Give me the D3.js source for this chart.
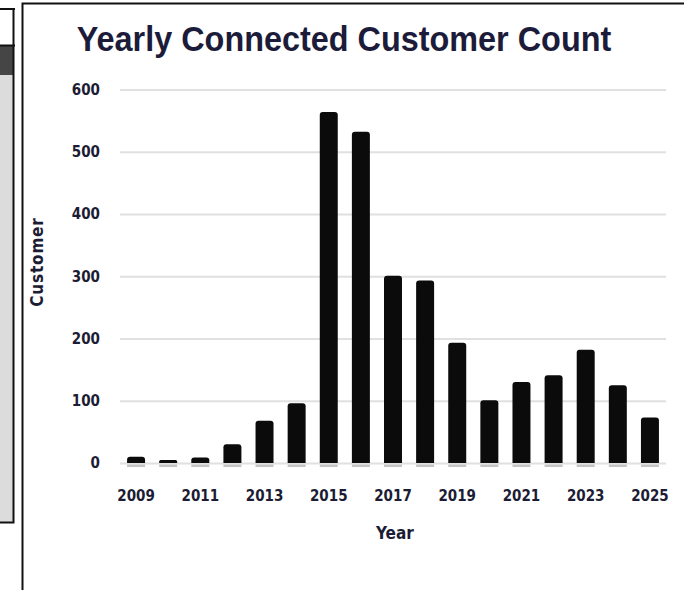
<!DOCTYPE html>
<html>
<head>
<meta charset="utf-8">
<script src="https://cdn.jsdelivr.net/npm/d3@7"></script>
<style>
  body { margin: 0; background: #fff; }
  svg { display: block; }
  .tick text, .axis-title { font-family: "DejaVu Sans Condensed", "DejaVu Sans", sans-serif; font-stretch: condensed; font-weight: bold; fill: #1c1c34; }
</style>
</head>
<body>
<div id="chart-area"></div>
<script>
// data
const years = ["2009", "2010", "2011", "2012", "2013", "2014", "2015", "2016", "2017",
  "2018", "2019", "2020", "2021", "2022", "2023", "2024", "2025"]
const customers = [10, 5, 9, 30, 68, 96, 564, 532, 301, 293, 193, 101, 130, 141, 182, 125, 73]
const yTicks = [0, 100, 200, 300, 400, 500, 600]
const xTickLabels = ["2009", "2011", "2013", "2015", "2017", "2019", "2021", "2023", "2025"]

const W = 684, H = 590
const PLOT = { LEFT: 120, RIGHT: 666, TOP: 89.5, BOTTOM: 463 }

const svg = d3.select("#chart-area").append("svg")
  .attr("width", W)
  .attr("height", H)

// left side panel (piece of neighbouring figure)
svg.append("rect").attr("x", 0).attr("y", 75).attr("width", 13).attr("height", 447).attr("fill", "#dcdcdc")
svg.append("rect").attr("x", 0).attr("y", 46).attr("width", 13).attr("height", 29).attr("fill", "#454545")
const edge = svg.append("g").attr("stroke", "#111").attr("fill", "none")
edge.append("path").attr("d", "M0,9H15M0,45.5H15M13.5,8V522.5H0").attr("stroke-width", 2)
// main frame
edge.append("path").attr("d", "M22.5,590V3.5H684").attr("stroke-width", 2)

// scales
const x = d3.scaleBand()
  .domain(years)
  .range([PLOT.LEFT, PLOT.RIGHT])
  .paddingInner(0.44)
  .paddingOuter(0.22)
const y = d3.scaleLinear()
  .domain([0, 600])
  .range([PLOT.BOTTOM, PLOT.TOP])

// y axis with gridlines
const yAxis = svg.append("g")
  .attr("transform", `translate(${PLOT.LEFT}, 0)`)
  .call(d3.axisLeft(y).tickValues(yTicks).tickSize(-(PLOT.RIGHT - PLOT.LEFT)).tickPadding(20))
yAxis.select(".domain").remove()
yAxis.selectAll(".tick line").attr("stroke", "#e0e0e0").attr("stroke-width", 2)
yAxis.selectAll(".tick text").attr("font-size", 15)

// x axis labels
const xAxis = svg.append("g")
  .attr("transform", `translate(0, ${PLOT.BOTTOM})`)
  .call(d3.axisBottom(x).tickValues(xTickLabels).tickSize(0).tickPadding(27))
xAxis.select(".domain").remove()
xAxis.selectAll(".tick text").attr("font-size", 15)

// grey marks under each bar
svg.append("g").selectAll("rect")
  .data(customers)
  .join("rect")
  .attr("x", (d, i) => x(years[i]))
  .attr("y", PLOT.BOTTOM + 1.5)
  .attr("width", x.bandwidth())
  .attr("height", 2.5)
  .attr("fill", "#c4c4c4")

// bars with rounded tops
const r = 3
svg.append("g").selectAll("path")
  .data(customers)
  .join("path")
  .attr("fill", "#0b0b0b")
  .attr("d", (d, i) => {
    const x0 = x(years[i]), w = x.bandwidth()
    const top = y(d), base = y(0)
    const rr = Math.min(r, (base - top) / 2)
    return `M${x0},${base}V${top + rr}Q${x0},${top} ${x0 + rr},${top}H${x0 + w - rr}Q${x0 + w},${top} ${x0 + w},${top + rr}V${base}Z`
  })

// title (narrow, tall glyphs)
svg.append("text")
  .attr("transform", "translate(344, 51) scale(0.9, 1)")
  .attr("text-anchor", "middle")
  .attr("font-family", "Liberation Sans, Arial, sans-serif")
  .attr("font-weight", "bold")
  .attr("font-size", 36)
  .attr("fill", "#1c1c3a")
  .text("Yearly Connected Customer Count")

// axis titles
svg.append("text")
  .attr("class", "axis-title")
  .attr("x", (PLOT.LEFT + PLOT.RIGHT) / 2 + 2)
  .attr("y", 539)
  .attr("text-anchor", "middle")
  .attr("font-size", 17)
  .text("Year")

svg.append("text")
  .attr("class", "axis-title")
  .attr("transform", "translate(43, 262) rotate(-90)")
  .attr("text-anchor", "middle")
  .attr("font-size", 17)
  .attr("letter-spacing", 0.8)
  .text("Customer")
</script>
</body>
</html>
